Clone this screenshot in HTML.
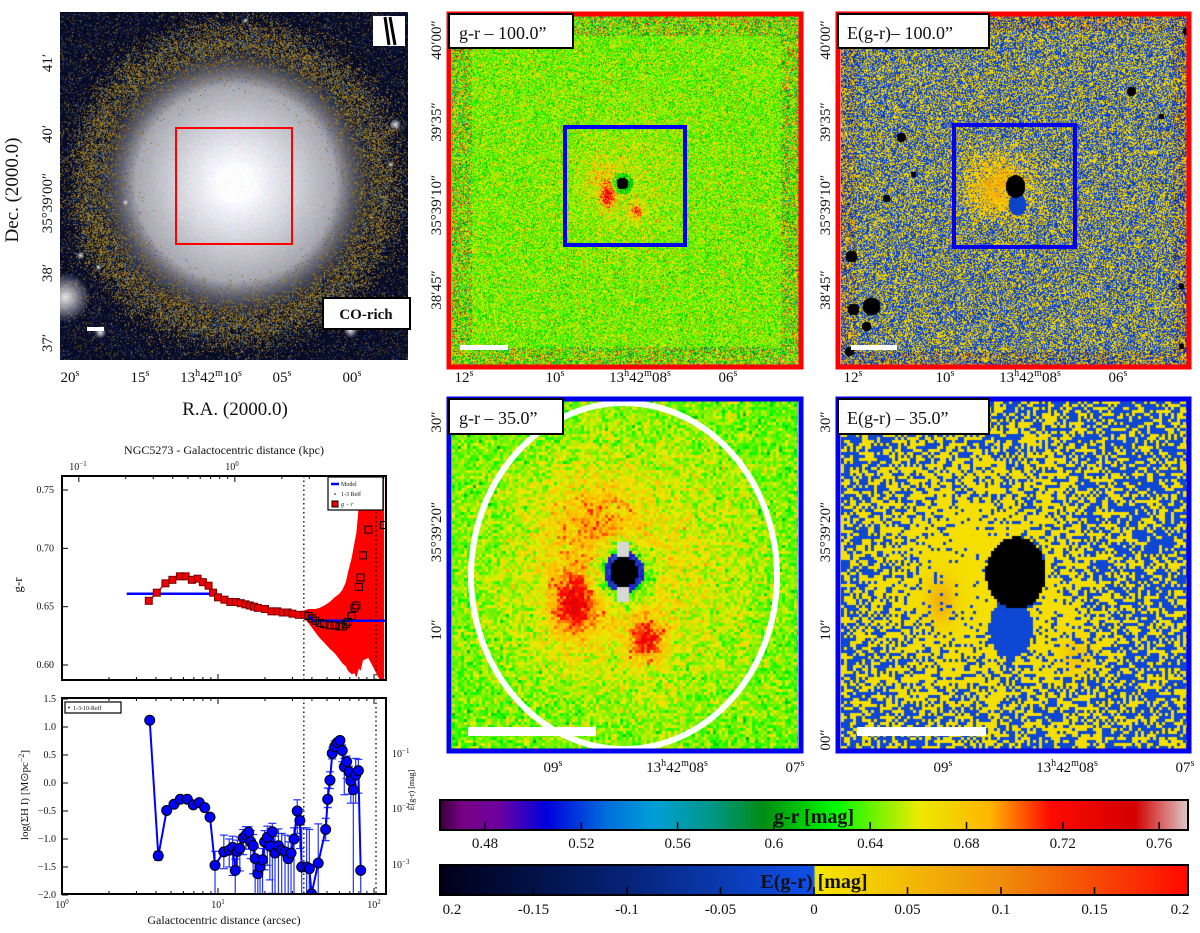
<!DOCTYPE html>
<html><head><meta charset="utf-8">
<style>
html,body{margin:0;padding:0;background:#fff;}
#root{position:relative;width:1200px;height:933px;overflow:hidden;font-family:"Liberation Serif",serif;}
canvas{position:absolute;}
svg{position:absolute;left:0;top:0;}
text{font-family:"Liberation Serif",serif;fill:#111;}
</style></head>
<body>
<div id="root">
<canvas id="cGal" width="348" height="348" style="left:60px;top:12px"></canvas>
<canvas id="cGr100" width="348" height="350" style="left:452px;top:16px"></canvas>
<canvas id="cE100" width="346" height="350" style="left:841px;top:16px"></canvas>
<canvas id="cGr35" width="346" height="348" style="left:452px;top:401px"></canvas>
<canvas id="cE35" width="346" height="348" style="left:841px;top:401px"></canvas>
<canvas id="cbar1" width="746" height="28" style="left:441px;top:801px"></canvas>
<canvas id="cbar2" width="746" height="28" style="left:441px;top:866px"></canvas>

<svg id="ov" width="1200" height="933" xmlns="http://www.w3.org/2000/svg">
<g>
<rect x="176" y="128" width="116" height="116" fill="none" stroke="#f00" stroke-width="2"/>
<rect x="373" y="16" width="32" height="30" fill="#fff"/>
<line x1="385" y1="17" x2="389" y2="45" stroke="#000" stroke-width="3"/>
<line x1="390" y1="17" x2="395" y2="45" stroke="#000" stroke-width="3"/>
<rect x="323" y="298" width="87" height="31" fill="#fff" stroke="#000" stroke-width="2"/>
<text x="366" y="319" font-size="15" font-weight="bold" text-anchor="middle">CO-rich</text>
<rect x="87" y="327" width="17" height="4" fill="#fff"/>
<g font-size="15" text-anchor="middle">
<text transform="translate(52,63) rotate(-90)">41′</text>
<text transform="translate(52,134) rotate(-90)">40′</text>
<text transform="translate(52,203) rotate(-90)">35°39′00″</text>
<text transform="translate(52,273) rotate(-90)">38′</text>
<text transform="translate(52,343) rotate(-90)">37′</text>
</g>
<text transform="translate(18,190) rotate(-90)" font-size="19" text-anchor="middle">Dec. (2000.0)</text>
<g font-size="15" text-anchor="middle">
<text x="70" y="382">20<tspan dy="-6" font-size="10">s</tspan></text>
<text x="140" y="382">15<tspan dy="-6" font-size="10">s</tspan></text>
<text x="211" y="382">13<tspan dy="-6" font-size="10">h</tspan><tspan dy="6">42</tspan><tspan dy="-6" font-size="10">m</tspan><tspan dy="6">10</tspan><tspan dy="-6" font-size="10">s</tspan></text>
<text x="282" y="382">05<tspan dy="-6" font-size="10">s</tspan></text>
<text x="352" y="382">00<tspan dy="-6" font-size="10">s</tspan></text>
</g>
<text x="235" y="415" font-size="19" text-anchor="middle">R.A. (2000.0)</text>
</g>

<g>
<rect x="449" y="14" width="352" height="353" fill="none" stroke="#f00" stroke-width="5"/>
<rect x="565" y="127" width="120" height="118" fill="none" stroke="#0000ee" stroke-width="4"/>
<rect x="449" y="14" width="124" height="34" fill="#fff" stroke="#000" stroke-width="2"/>
<text x="459" y="39" font-size="18">g-r – 100.0”</text>
<rect x="460" y="345" width="48" height="5" fill="#fff"/>
<g font-size="15" text-anchor="middle">
<text transform="translate(441,40) rotate(-90)">40′00″</text>
<text transform="translate(441,122) rotate(-90)">39′35″</text>
<text transform="translate(441,205) rotate(-90)">35°39′10″</text>
<text transform="translate(441,290) rotate(-90)">38′45″</text>
<text x="464" y="382">12<tspan dy="-6" font-size="10">s</tspan></text>
<text x="555" y="382">10<tspan dy="-6" font-size="10">s</tspan></text>
<text x="640" y="382">13<tspan dy="-6" font-size="10">h</tspan><tspan dy="6">42</tspan><tspan dy="-6" font-size="10">m</tspan><tspan dy="6">08</tspan><tspan dy="-6" font-size="10">s</tspan></text>
<text x="728" y="382">06<tspan dy="-6" font-size="10">s</tspan></text>
</g>
</g>

<g>
<rect x="838" y="14" width="351" height="353" fill="none" stroke="#f00" stroke-width="5"/>
<rect x="954" y="125" width="121" height="122" fill="none" stroke="#0000ee" stroke-width="4"/>
<rect x="838" y="14" width="151" height="34" fill="#fff" stroke="#000" stroke-width="2"/>
<text x="847" y="39" font-size="18">E(g-r)– 100.0”</text>
<rect x="851" y="345" width="46" height="5" fill="#fff"/>
<g font-size="15" text-anchor="middle">
<text transform="translate(830,40) rotate(-90)">40′00″</text>
<text transform="translate(830,122) rotate(-90)">39′35″</text>
<text transform="translate(830,205) rotate(-90)">35°39′10″</text>
<text transform="translate(830,290) rotate(-90)">38′45″</text>
<text x="853" y="382">12<tspan dy="-6" font-size="10">s</tspan></text>
<text x="945" y="382">10<tspan dy="-6" font-size="10">s</tspan></text>
<text x="1030" y="382">13<tspan dy="-6" font-size="10">h</tspan><tspan dy="6">42</tspan><tspan dy="-6" font-size="10">m</tspan><tspan dy="6">08</tspan><tspan dy="-6" font-size="10">s</tspan></text>
<text x="1118" y="382">06<tspan dy="-6" font-size="10">s</tspan></text>
</g>
</g>

<g>
<ellipse cx="624" cy="576" rx="153" ry="173" fill="none" stroke="#fff" stroke-width="6"/>
<rect x="449" y="399" width="352" height="352" fill="none" stroke="#0000ee" stroke-width="5"/>
<rect x="449" y="399" width="114" height="35" fill="#fff" stroke="#000" stroke-width="2"/>
<text x="459" y="424" font-size="18">g-r – 35.0”</text>
<rect x="468" y="727" width="128" height="9" fill="#fff"/>
<g font-size="15" text-anchor="middle">
<text transform="translate(441,422) rotate(-90)">30″</text>
<text transform="translate(441,532) rotate(-90)">35°39′20″</text>
<text transform="translate(441,630) rotate(-90)">10″</text>
<text x="553" y="772">09<tspan dy="-6" font-size="10">s</tspan></text>
<text x="677" y="772">13<tspan dy="-6" font-size="10">h</tspan><tspan dy="6">42</tspan><tspan dy="-6" font-size="10">m</tspan><tspan dy="6">08</tspan><tspan dy="-6" font-size="10">s</tspan></text>
<text x="795" y="772">07<tspan dy="-6" font-size="10">s</tspan></text>
</g>
</g>

<g>
<rect x="838" y="399" width="351" height="352" fill="none" stroke="#0000ee" stroke-width="5"/>
<rect x="838" y="399" width="151" height="35" fill="#fff" stroke="#000" stroke-width="2"/>
<text x="847" y="424" font-size="18">E(g-r) – 35.0”</text>
<rect x="857" y="727" width="129" height="9" fill="#fff"/>
<g font-size="15" text-anchor="middle">
<text transform="translate(830,422) rotate(-90)">30″</text>
<text transform="translate(830,532) rotate(-90)">35°39′20″</text>
<text transform="translate(830,630) rotate(-90)">10″</text>
<text transform="translate(830,740) rotate(-90)">00″</text>
<text x="943" y="772">09<tspan dy="-6" font-size="10">s</tspan></text>
<text x="1067" y="772">13<tspan dy="-6" font-size="10">h</tspan><tspan dy="6">42</tspan><tspan dy="-6" font-size="10">m</tspan><tspan dy="6">08</tspan><tspan dy="-6" font-size="10">s</tspan></text>
<text x="1185" y="772">07<tspan dy="-6" font-size="10">s</tspan></text>
</g>
</g>

<g>
<rect x="440" y="800" width="748" height="30" fill="none" stroke="#000" stroke-width="2"/>
<text x="814" y="823" font-size="20" font-weight="bold" text-anchor="middle">g-r [mag]</text>
<g id="cb1ticks" font-size="15" text-anchor="middle"></g>
<rect x="440" y="865" width="748" height="30" fill="none" stroke="#000" stroke-width="2"/>
<text x="814" y="888" font-size="20" font-weight="bold" text-anchor="middle">E(g-r) [mag]</text>
<g id="cb2ticks" font-size="15" text-anchor="middle"></g>
</g>

<g id="plot1">
<text x="224" y="454" font-size="12" text-anchor="middle">NGC5273 - Galactocentric distance (kpc)</text>
<text x="78" y="470" font-size="10" text-anchor="middle">10<tspan dy="-4" font-size="7">−1</tspan></text>
<text x="232" y="470" font-size="10" text-anchor="middle">10<tspan dy="-4" font-size="7">0</tspan></text>
<text transform="translate(22,585) rotate(-90)" font-size="13" text-anchor="middle">g-r</text>
</g>
<g id="plot2">
<text transform="translate(28,795) rotate(-90)" font-size="11" text-anchor="middle">log(ΣH I) [M⊙pc<tspan dy="-4" font-size="8">−2</tspan><tspan dy="4">]</tspan></text>
<text x="224" y="924" font-size="12" text-anchor="middle">Galactocentric distance (arcsec)</text>
<text transform="translate(414,790) rotate(-90)" font-size="8" text-anchor="middle" fill="#444">E(g-r) [mag]</text>
<text x="392" y="757" font-size="10" fill="#444">10<tspan dy="-4" font-size="7">−1</tspan></text>
<text x="392" y="812" font-size="10" fill="#444">10<tspan dy="-4" font-size="7">−2</tspan></text>
<text x="392" y="868" font-size="10" fill="#444">10<tspan dy="-4" font-size="7">−3</tspan></text>
</g>
</svg>
</div>

<script>
const grRadius = [3.6,4.05,4.6,5.1,5.7,6.2,6.8,7.4,8.0,8.7,9.3,10,11,12,13,14,15,16,17,18,20,22,24,26,28,30,33,36,38,40,42,45,48,52,56,60,63,66,68,72,75,77,80,82,85,92,116];
const grValue = [0.655,0.662,0.670,0.673,0.676,0.676,0.673,0.674,0.671,0.668,0.662,0.658,0.656,0.654,0.654,0.653,0.652,0.651,0.650,0.649,0.648,0.646,0.646,0.645,0.645,0.644,0.643,0.643,0.642,0.640,0.638,0.636,0.635,0.634,0.634,0.633,0.633,0.635,0.637,0.642,0.649,0.651,0.667,0.675,0.694,0.716,0.720];
const grError = [0.001,0.001,0.001,0.001,0.001,0.001,0.001,0.001,0.001,0.001,0.001,0.001,0.001,0.001,0.001,0.001,0.001,0.001,0.001,0.001,0.001,0.001,0.001,0.001,0.001,0.001,0.002,0.004,0.006,0.008,0.010,0.013,0.016,0.020,0.024,0.028,0.032,0.036,0.042,0.050,0.056,0.062,0.070,0.080,0.090,0.110,0.140];
const modelRadius = [2.6,9.3,10.5,13,16,20,25,30,36,38,41,120];
const modelValue = [0.661,0.661,0.656,0.653,0.650,0.646,0.645,0.643,0.642,0.642,0.638,0.638];
const grTicks = [0.60,0.65,0.70,0.75];
const reffLines = [35.5,103];
const hiRadius = [3.65,4.14,4.69,5.22,5.73,6.36,6.95,7.59,8.22,8.89,9.57,10.9,11.8,12.4,12.9,13.3,13.8,14.5,15.1,15.7,16.2,16.8,17.3,18.0,18.6,19.3,19.9,20.7,21.5,22.3,23.2,24.4,25.6,26.9,28.2,29.4,30.7,32.2,33.5,34.4,37.0,38.5,39.8,43.9,49.0,50.5,52.2,54.0,56.0,58.2,60.5,62.6,64.5,66.8,69.2,71.0,73.7,76.3,79.4,82.2];
const hiValue = [1.12,-1.30,-0.49,-0.38,-0.29,-0.29,-0.39,-0.35,-0.44,-0.61,-1.47,-1.23,-1.20,-1.15,-1.56,-1.22,-1.17,-0.98,-0.93,-0.88,-1.05,-1.12,-1.35,-1.62,-1.50,-1.37,-1.05,-0.97,-1.13,-0.87,-1.25,-1.12,-1.20,-1.23,-1.35,-1.25,-1.00,-0.50,-0.67,-1.50,-1.50,-1.53,-1.98,-1.43,-0.83,-0.29,0.05,0.53,0.65,0.72,0.76,0.58,0.29,0.38,0.20,0.04,-0.12,0.14,0.22,-1.56];
const hiErrUp = [0.02,0.08,0.02,0.02,0.02,0.02,0.02,0.02,0.02,0.03,0.25,0.3,0.2,0.2,0.2,0.2,0.2,0.15,0.15,0.1,0.2,0.2,0.2,0.25,0.2,0.2,0.2,0.2,0.2,0.15,0.3,0.3,0.3,0.3,0.3,0.3,0.2,0.2,0.2,0.7,0.7,0.7,0.0,0.7,0.2,0.2,0.15,0.1,0.1,0.05,0.05,0.1,0.15,0.1,0.1,0.2,0.1,0.3,0.2,0.0];
const hiErrDn = [0.02,0.08,0.02,0.02,0.02,0.02,0.02,0.02,0.02,0.03,0.6,0.3,0.3,0.5,0.5,0.3,0.4,0.3,0.25,0.3,0.3,0.5,0.8,0.8,0.7,0.7,0.5,0.5,0.6,1.1,0.8,0.9,0.8,0.8,0.7,0.8,1.0,0.4,0.5,0.5,0.5,0.5,0.1,0.6,0.2,0.15,0.15,0.1,0.1,0.05,0.05,0.2,0.5,0.3,0.4,0.4,2.0,0.5,0.4,0.5];
const hiTicks = [-2.0,-1.5,-1.0,-0.5,0.0,0.5,1.0,1.5];
const xTickDecades = [0,1,2];
const grCbTicks = [0.48,0.52,0.56,0.6,0.64,0.68,0.72,0.76];
const egrCbTicks = [-0.2,-0.15,-0.1,-0.05,0,0.05,0.1,0.15,0.2];
const egrCbLabels = ["0.2","-0.15","-0.1","-0.05","0","0.05","0.1","0.15","0.2"];

const NS="http://www.w3.org/2000/svg";
function mk(tag,attrs,parent){const e=document.createElementNS(NS,tag);for(const k in attrs)e.setAttribute(k,attrs[k]);parent.appendChild(e);return e;}

const xs = a => 62 + 156*Math.log10(a);
const y1 = v => 490 + (0.75 - v)*1166.7;
const y2 = v => 783 - v*56;

(function(){
 const g=document.getElementById('plot1');
 const L=62,R=386,T=476,B=680;
 const cp=mk('clipPath',{id:'cp1'},g); mk('rect',{x:L,y:T,width:R-L,height:B-T},cp);
 const body=mk('g',{'clip-path':'url(#cp1)'},g);
 let up='',dn='';
 grRadius.forEach((r,i)=>{up+=(i?'L':'M')+xs(r).toFixed(1)+','+y1(grValue[i]+grError[i]).toFixed(1);});
 for(let i=grRadius.length-1;i>=0;i--){dn+='L'+xs(grRadius[i]).toFixed(1)+','+y1(grValue[i]-grError[i]).toFixed(1);}
 const band=mk('path',{d:up+dn+'Z',fill:'#ff0000'},body);
 
 
 let md='';modelRadius.forEach((r,i)=>{md+=(i?'L':'M')+xs(r).toFixed(1)+','+y1(modelValue[i]).toFixed(1);});
 const ml=mk('path',{d:md,fill:'none',stroke:'#0000ff','stroke-width':2.5},body);
 
 
 reffLines.forEach(r=>{const l=mk('line',{x1:xs(r),x2:xs(r),y1:T,y2:B,stroke:'#000','stroke-width':1.3,'stroke-dasharray':'1.5,3'},body);
  
  });
 grRadius.forEach((r,i)=>{const inner=r<38;
  const s=mk('rect',{x:xs(r)-3.5,y:y1(grValue[i])-3.5,width:7,height:7,fill:inner?'#e00':'none',stroke:inner?'#700':'#000','stroke-width':1},body);
  
  });
 mk('rect',{x:L,y:T,width:R-L,height:B-T,fill:'none',stroke:'#000','stroke-width':2},g);
 grTicks.forEach(v=>{mk('line',{x1:L,x2:L+6,y1:y1(v),y2:y1(v),stroke:'#000'},g);
  const t=mk('text',{x:L-8,y:y1(v)+3,'font-size':10,'text-anchor':'end'},g);t.textContent=v.toFixed(2);
  
  });
 xTickDecades.forEach(d=>{for(let k=1;k<10;k++){const x=xs(k*Math.pow(10,d));if(x>L&&x<R){mk('line',{x1:x,x2:x,y1:B,y2:B-(k==1?6:3),stroke:'#000'},g);}}});
 [0.1,1].forEach(k=>{const x=xs(k/0.078);mk('line',{x1:x,x2:x,y1:T,y2:T+6,stroke:'#000'},g);});
 for(let k=2;k<10;k++){[0.1,1].forEach(b=>{const x=xs(k*b/0.078);if(x>L&&x<R)mk('line',{x1:x,x2:x,y1:T,y2:T+3,stroke:'#000'},g);});}
 const lg=mk('g',{},g);
 
 
 mk('rect',{x:328,y:477,width:55,height:33,fill:'#fff',stroke:'#000','stroke-width':1.2},lg);
 mk('line',{x1:331,x2:339,y1:484,y2:484,stroke:'#00f','stroke-width':2.5},lg);
 let t=mk('text',{x:341,y:486,'font-size':6},lg);t.textContent='Model';
 mk('circle',{cx:335,cy:494,r:0.8,fill:'#000'},lg);
 t=mk('text',{x:341,y:496,'font-size':6},lg);t.textContent='1-3 Reff';
 mk('rect',{x:332,y:501,width:6,height:6,fill:'#e00',stroke:'#000'},lg);
 t=mk('text',{x:341,y:506,'font-size':6,'font-style':'italic'},lg);t.textContent='g − r';
})();

(function(){
 const g=document.getElementById('plot2');
 const L=62,R=386,T=698,B=894;
 const cp=mk('clipPath',{id:'cp2'},g); mk('rect',{x:L,y:T,width:R-L,height:B-T},cp);
 const body=mk('g',{'clip-path':'url(#cp2)'},g);
 reffLines.forEach(r=>{mk('line',{x1:xs(r),x2:xs(r),y1:T,y2:B,stroke:'#000','stroke-width':1.3,'stroke-dasharray':'1.5,3'},body);});
 hiRadius.forEach((r,i)=>{const x=xs(r),ya=y2(hiValue[i]+hiErrUp[i]),yb=y2(hiValue[i]-hiErrDn[i]);
  mk('line',{x1:x,x2:x,y1:ya,y2:yb,stroke:'#2233ff','stroke-width':1.2},body);
  mk('line',{x1:x-4,x2:x+4,y1:ya,y2:ya,stroke:'#2233ff','stroke-width':1.2},body);
  mk('line',{x1:x-4,x2:x+4,y1:yb,y2:yb,stroke:'#2233ff','stroke-width':1.2},body);});
 let d='';hiRadius.forEach((r,i)=>{d+=(i?'L':'M')+xs(r).toFixed(1)+','+y2(hiValue[i]).toFixed(1);});
 const pl=mk('path',{d:d,fill:'none',stroke:'#0000ff','stroke-width':2},body);
 
 
 hiRadius.forEach((r,i)=>{const c=mk('circle',{cx:xs(r),cy:y2(hiValue[i]),r:5,fill:'#0000ff',stroke:'#000','stroke-width':1},body);
  
  });
 mk('rect',{x:L,y:T,width:R-L,height:B-T,fill:'none',stroke:'#000','stroke-width':2},g);
 hiTicks.forEach(v=>{mk('line',{x1:L,x2:L+6,y1:y2(v),y2:y2(v),stroke:'#000'},g);
  const t=mk('text',{x:L-6,y:y2(v)+3,'font-size':10,'text-anchor':'end'},g);t.textContent=(v<0?'−':'')+Math.abs(v).toFixed(1);
  
  });
 xTickDecades.forEach(d0=>{for(let k=1;k<10;k++){const x=xs(k*Math.pow(10,d0));if(x>=L&&x<R){mk('line',{x1:x,x2:x,y1:B,y2:B-(k==1?6:3),stroke:'#000'},g);mk('line',{x1:x,x2:x,y1:T,y2:T+(k==1?6:3),stroke:'#000'},g);}}
  const t=mk('text',{x:xs(Math.pow(10,d0)),y:908,'font-size':10,'text-anchor':'middle'},g);
  t.textContent='10';const ts=mk('tspan',{dy:-4,'font-size':7},t);ts.textContent=String(d0);
  
  });
 const lg=mk('g',{},g);
 
 
 mk('rect',{x:65,y:702,width:56,height:11,fill:'#fff',stroke:'#000','stroke-width':1.2},lg);
 mk('circle',{cx:69,cy:707.5,r:0.9,fill:'#000'},lg);
 const t=mk('text',{x:73,y:710,'font-size':6},lg);t.textContent='1-3-10-Reff';
})();

const grStops=[[0.455,[15,0,15]],[0.47,[120,0,130]],[0.485,[110,0,160]],[0.505,[0,0,220]],[0.53,[0,110,220]],[0.55,[0,160,215]],[0.575,[0,150,130]],[0.595,[0,140,20]],[0.625,[0,250,0]],[0.66,[235,235,0]],[0.69,[255,180,0]],[0.715,[255,10,0]],[0.75,[210,0,0]],[0.775,[225,225,225]]];
function lerpMap(stops,v){if(v<=stops[0][0])return stops[0][1];for(let i=1;i<stops.length;i++){if(v<=stops[i][0]){const a=stops[i-1],b=stops[i],t=(v-a[0])/(b[0]-a[0]);return [0,1,2].map(k=>Math.round(a[1][k]+(b[1][k]-a[1][k])*t));}}return stops[stops.length-1][1];}
const grMap=v=>lerpMap(grStops,v);
const eStops=[[-0.2,[0,0,25]],[-0.1,[5,35,120]],[-0.0001,[15,80,235]],[0.0001,[245,232,0]],[0.1,[240,140,10]],[0.2,[255,10,0]]];
const eMap=v=>lerpMap(eStops,v);

let seed=12345;function rnd(){seed|=0;seed=seed+0x6D2B79F5|0;let t=Math.imul(seed^seed>>>15,1|seed);t=t+Math.imul(t^t>>>7,61|t)^t;return((t^t>>>14)>>>0)/4294967296;}
function gauss(){return Math.sqrt(-2*Math.log(rnd()+1e-9))*Math.cos(2*Math.PI*rnd());}

(function(){
 const c1=document.getElementById('cbar1').getContext('2d');
 for(let x=0;x<746;x++){const v=0.4613+(x/746)*(0.772-0.4613);const col=grMap(v);c1.fillStyle=`rgb(${col})`;c1.fillRect(x,0,1,28);}
 const c2=document.getElementById('cbar2').getContext('2d');
 for(let x=0;x<746;x++){const v=-0.2+(x/746)*0.4;const col=eMap(v);c2.fillStyle=`rgb(${col})`;c2.fillRect(x,0,1,28);}
 const g1=document.getElementById('cb1ticks'),g2=document.getElementById('cb2ticks');
 const cx1=v=>440+(v-0.4613)/(0.772-0.4613)*748, cx2=v=>440+(v+0.2)/0.4*748;
 grCbTicks.forEach(v=>{mk('line',{x1:cx1(v),x2:cx1(v),y1:830,y2:822,stroke:'#000','stroke-width':1.5},g1);
  const t=mk('text',{x:cx1(v),y:848},g1);t.textContent=String(v);
  
  });
 egrCbTicks.forEach((v,i)=>{if(i>0&&i<egrCbTicks.length-1)mk('line',{x1:cx2(v),x2:cx2(v),y1:895,y2:887,stroke:'#000','stroke-width':1.5},g2);
  const t=mk('text',{x:Math.min(Math.max(cx2(v),452),1180),y:914},g2);t.textContent=egrCbLabels[i];
  
  });
})();

function putImg(id,fn){const cv=document.getElementById(id),ctx=cv.getContext('2d'),W=cv.width,H=cv.height;const im=ctx.createImageData(W,H);
 for(let y=0;y<H;y++)for(let x=0;x<W;x++){const c=fn(x,y,W,H);const o=(y*W+x)*4;im.data[o]=c[0];im.data[o+1]=c[1];im.data[o+2]=c[2];im.data[o+3]=255;}
 ctx.putImageData(im,0,0);}
function blocky(id,bs,fn){const cv=document.getElementById(id),ctx=cv.getContext('2d'),W=cv.width,H=cv.height;
 for(let y=0;y<H;y+=bs)for(let x=0;x<W;x+=bs){const c=fn(x+bs/2,y+bs/2,W,H);ctx.fillStyle=`rgb(${c[0]},${c[1]},${c[2]})`;ctx.fillRect(x,y,bs,bs);}}

const stars=[[40,320,6],[185,8,3],[290,318,7],[335,112,6],[330,152,3],[20,243,4],[115,178,3],[5,285,25],[65,190,3],[38,255,3],[122,205,2]];
putImg('cGal',(x,y)=>{const dx=x-175,dy=y-171,r=Math.sqrt(dx*dx+dy*dy*1.05);
 let base;
 if(r<20)base=[255,255,255];
 else{const l=Math.pow(Math.max(0,Math.min(1,1.1-r/150)),0.9);const w=Math.max(0,Math.min(1,(140-r)/40));
  const gv=90+165*l;base=[gv*w+8*(1-w),gv*w+12*(1-w),(gv+8)*w+38*(1-w)];}
 const pr=Math.exp(-Math.pow((r-145)/25,2));
 const u=rnd();
 if(u<pr*0.5){const b=0.5+0.5*rnd();base=[185*b,145*b,45*b];}
 else if(u<pr*0.62){base=[40,90,150];}
 else if(r>160&&u<0.14){const b=rnd();base=b<0.5?[120,95,30]:[30,55,120];}
 for(const s of stars){const d=Math.hypot(x-s[0],y-s[1]);if(d<s[2]){const k=1-d/s[2];base=base.map((c,i)=>c+(230-c)*k);}}
 return base.map(v=>Math.max(0,Math.min(255,v+gauss()*6)));});

putImg('cGr100',(x,y,W,H)=>{const cx=170,cy=167;const dx=x-cx,dy=y-cy,r=Math.hypot(dx,dy);
 const edge=Math.min(x,y,W-x,H-y);const sd=0.02+(edge<20?0.02:0);
 if(r<6)return [0,0,0];
 let v=0.643+gauss()*sd+0.012*Math.exp(-(r*r)/(55*55));
 if(r<11)v-=0.04;
 v+=0.08*Math.exp(-(((x-155)**2)/50+((y-180)**2)/130));
 v+=0.06*Math.exp(-(((x-184)**2)/40+((y-196)**2)/50));
 v+=0.02*Math.exp(-(((x-150)**2)/400+((y-160)**2)/200));
 return grMap(v);});

const blackSpots=[[60,121,5],[72,158,3],[45,182,4],[10,240,6],[12,293,6],[30,290,9],[25,310,5],[8,335,5],[345,15,4],[350,70,4],[290,75,5],[320,100,3],[355,140,3],[340,270,3],[340,330,3]];
putImg('cE100',(x,y,W,H)=>{const cx=174,cy=170;const dx=x-cx,dy=y-cy;
 if((dx*dx)/100+(dy*dy)/130<1)return [0,0,0];
 for(const s of blackSpots){if(Math.hypot(x-s[0],y-s[1])<s[2])return [0,0,0];}
 const edge=Math.min(x,y,W-x,H-y);
 let v=gauss()*0.03+(edge<15?gauss()*0.05:0)-0.003;
 const yl=Math.exp(-(((dx+18)**2)/900+((dy)**2)/700));
 v+=0.06*yl;
 if(((dx-2)**2)/80+((dy-18)**2)/120<1)v=-0.03;
 return eMap(v);});

blocky('cGr35',3,(x,y)=>{const cx=172,cy=171;const dx=x-cx,dy=y-cy,r=Math.hypot(dx,dy/1.05);
 if(r<14)return [0,0,0];
 if((Math.abs(dx+1)<6)&&(Math.abs(dy+20)<9||Math.abs(dy-22)<9))return [215,215,215];
 let v=0.638+gauss()*0.012+0.03*Math.exp(-(r*r)/(130*130));
 if(r<45)v-=0.04*(1-(r-14)/31);
 v+=0.07*Math.exp(-(((x-122)**2)/500+((y-203)**2)/1100));
 v+=0.06*Math.exp(-(((x-195)**2)/300+((y-238)**2)/500));
 v+=0.03*Math.exp(-(((x-140)**2)/2000+((y-120)**2)/1500));
 if(r<20)return [30,20+rnd()*60,200];
 return grMap(v);});

blocky('cE35',3,(x,y)=>{const cx=175,cy=172;const dx=x-cx,dy=y-cy;
 if((dx*dx)/(30*30)+(dy*dy)/(36*36)<1)return [0,0,0];
 if(((dx+5)**2)/(22*22)+((dy-55)**2)/(30*30)<1)return eMap(-0.02);
 const p=0.42+0.55*Math.exp(-(((dx+45)**2)/(90*90)+((dy)**2)/(110*110)))+0.3*Math.exp(-(((dx-50)**2)/(30*30)+((dy-60)**2)/(60*60)));
 if(rnd()<p){let v=0.01+0.05*Math.exp(-(((x-100)**2)/200+((y-200)**2)/500))+0.03*Math.exp(-(((x-235)**2)/200+((y-255)**2)/300));return eMap(v);}
 return eMap(-0.02);});
</script>
</body></html>
